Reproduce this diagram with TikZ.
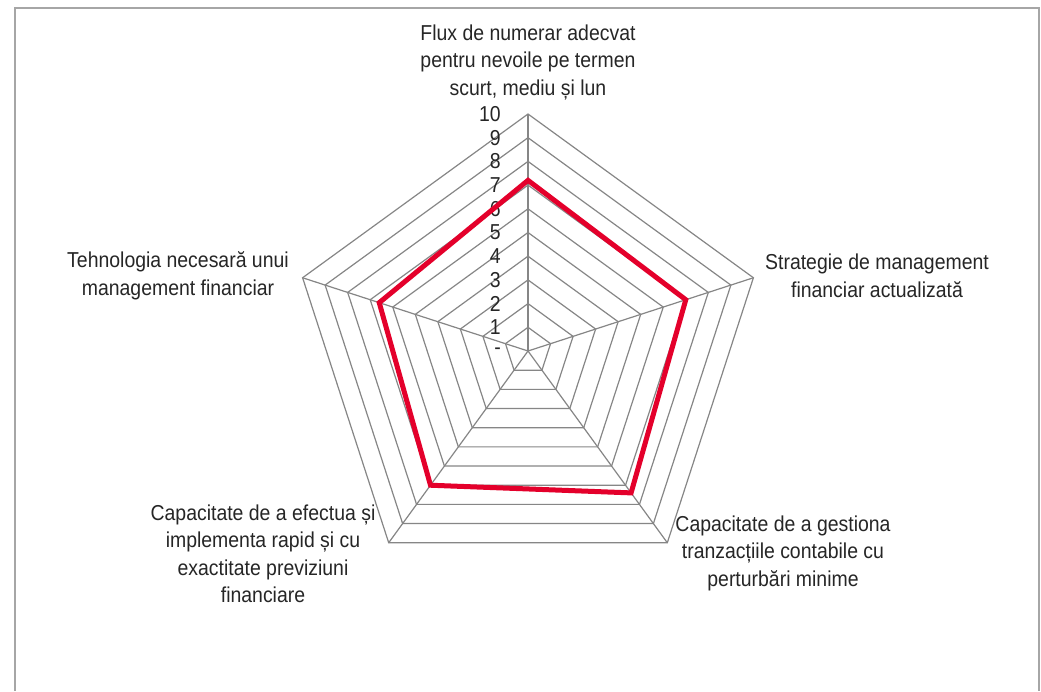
\documentclass[tikz,border=0pt]{standalone}
\usepackage{fontspec}
\setmainfont{Liberation Sans}[FakeStretch=0.9]
\usetikzlibrary{calc}
\definecolor{framegray}{RGB}{166,166,166}
\definecolor{gridgray}{RGB}{134,134,134}
\definecolor{seriesred}{RGB}{228,0,43}
\begin{document}
\begin{tikzpicture}[x=1pt,y=-1pt,
  framerule/.style={draw=framegray,line width=2pt},
  gridline/.style={draw=gridgray,line width=1.2pt,line join=miter},
  series/.style={draw=seriesred,line width=5pt,line join=miter},
  catlabel/.style={font=\fontsize{21.6}{27.5}\selectfont,align=center,inner sep=0pt,text=black!85},
  ticklabel/.style={font=\fontsize{21.6}{22}\selectfont,anchor=east,inner sep=0pt,text=black!85}]
\useasboundingbox (0,0) rectangle (1041,691);
\fill[white] (0,0) rectangle (1041,691);
% chart frame (open at the bottom edge)
\draw[framerule] (15,691) -- (15,8) -- (1039,8) -- (1039,691);

\begin{scope}[shift={(528,351)}]
  \coordinate (O) at (0,0);
  % level pentagons
  \foreach \k in {1,...,10}{
    \draw[gridline] (-90:\k*23.7) -- (-18:\k*23.7) -- (54:\k*23.7)
      -- (126:\k*23.7) -- (198:\k*23.7) -- cycle;
  }
  % spokes
  \foreach \i in {0,...,4}{
    \coordinate (v\i) at (-90+72*\i:237);
    \draw[gridline] (O) -- (v\i);
  }
  % scale values
  \node[ticklabel] (t0) at (-27,0) {-};
  \foreach \k in {1,...,10}{
    \node[ticklabel] (t\k) at (-27,-\k*23.7) {\k};
  }
  % data series
  \coordinate (d0) at (-90:7.2*23.7);
  \coordinate (d1) at (-18:7.0*23.7);
  \coordinate (d2) at (54:7.4*23.7);
  \coordinate (d3) at (126:7.0*23.7);
  \coordinate (d4) at (198:6.6*23.7);
  \draw[series] (d0) -- (d1) -- (d2) -- (d3) -- (d4) -- cycle;
\end{scope}

% category labels
\node[catlabel] (c0) at (528,62) {Flux de numerar adecvat\\pentru nevoile pe termen\\scurt, mediu și lun};
\node[catlabel] (c1) at (877,276) {Strategie de management\\financiar actualizată};
\node[catlabel] (c2) at (783,553) {Capacitate de a gestiona\\tranzacțiile contabile cu\\perturbări minime};
\node[catlabel] (c3) at (263,554) {Capacitate de a efectua și\\implementa rapid și cu\\exactitate previziuni\\financiare};
\node[catlabel] (c4) at (178,276) {Tehnologia necesară unui\\management financiar};
\end{tikzpicture}
\end{document}
